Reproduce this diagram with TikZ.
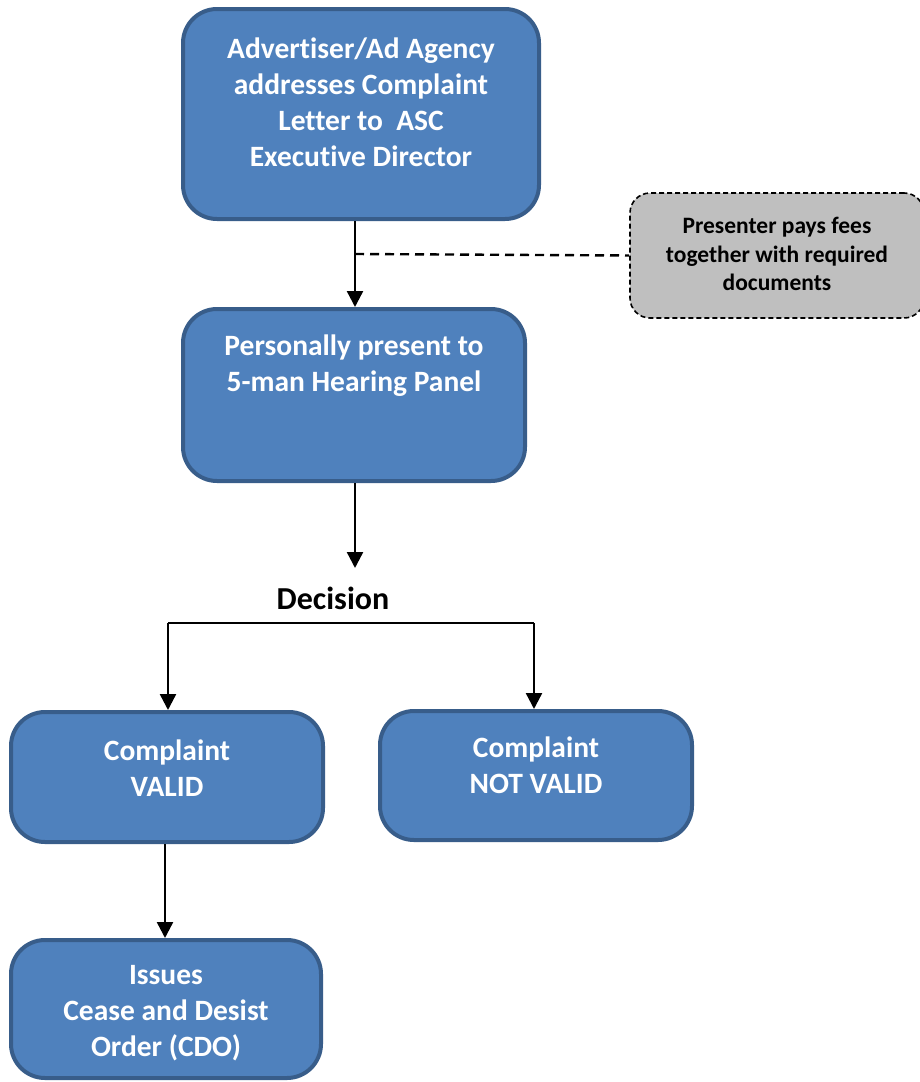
\documentclass[tikz,border=0pt]{standalone}
\usepackage{fontspec}
\setmainfont{Carlito}[Ligatures=NoCommon]
\usetikzlibrary{arrows.meta,positioning}
\definecolor{boxfill}{HTML}{4F81BD}
\definecolor{boxline}{HTML}{385D8A}
\definecolor{notefill}{HTML}{BFBFBF}
\begin{document}
\begin{tikzpicture}[x=1pt,y=-1pt,
  flowbox/.style={draw=boxline,fill=boxfill,line width=4pt,rounded corners=34pt,inner sep=0pt},
  flowtext/.style={text=white,font=\fontsize{29.5}{36}\selectfont\bfseries,align=center,inner sep=0pt},
  notebox/.style={draw=black,fill=notefill,line width=1.6pt,dash pattern=on 5pt off 3pt,rounded corners=20pt,inner sep=0pt},
  notetext/.style={text=black,font=\fontsize{23.5}{28.5}\selectfont\bfseries,align=center,inner sep=0pt},
  flowarrow/.style={line width=2.4pt,-{Triangle[width=16pt,length=16pt]}},
  linkline/.style={line width=2.4pt}]
\useasboundingbox (0,0) rectangle (919,1082);
\fill[white] (0,0) rectangle (919,1082);

% boxes
\node[flowbox,minimum width=356pt,minimum height=210pt] (letter) at (361,114) {};
\node[flowtext] (lettertxt) at (361,102) {Advertiser/Ad Agency\\addresses Complaint\\Letter to~ ASC\\Executive Director};

\node[flowbox,minimum width=342pt,minimum height=172pt] (panel) at (354,395) {};
\node[flowtext] (paneltxt) at (354,366) {Personally present to\\5-man Hearing Panel};

\node[notebox,minimum width=294pt,minimum height=125pt] (fees) at (777,255.5) {};
\node[notetext] (feestxt) at (777,254) {Presenter pays fees\\together with required\\documents};

\node[text=black,font=\fontsize{32}{38}\selectfont\bfseries,inner sep=0pt] (decision) at (333,598) {Decision};

\node[flowbox,minimum width=312pt,minimum height=130pt] (valid) at (167,777) {};
\node[flowtext] (validtxt) at (167,768) {Complaint\\VALID};

\node[flowbox,minimum width=312pt,minimum height=129pt] (notvalid) at (536,775.5) {};
\node[flowtext] (notvalidtxt) at (536,765) {Complaint\\NOT VALID};

\node[flowbox,minimum width=310pt,minimum height=138pt] (cdo) at (166,1009) {};
\node[flowtext] (cdotxt) at (166,1013) {Issues\\Cease and Desist\\Order (CDO)};

% connectors
\coordinate (decisiontop) at (355,568);
\draw[flowarrow] (letter.south -| 355,0) -- (panel.north -| 355,0);
\draw[linkline,dash pattern=on 9pt off 6pt] (355,254) coordinate (tap) -- (fees.west);
\draw[flowarrow] (panel.south -| decisiontop) -- (decisiontop);
\draw[linkline] (168,623) coordinate (leftturn) -- (534,623) coordinate (rightturn);
\draw[flowarrow] (leftturn) -- (valid.north -| leftturn);
\draw[flowarrow] (rightturn) -- (notvalid.north -| rightturn);
\draw[flowarrow] (valid.south -| 165,0) -- (cdo.north -| 165,0);
\end{tikzpicture}
\end{document}
